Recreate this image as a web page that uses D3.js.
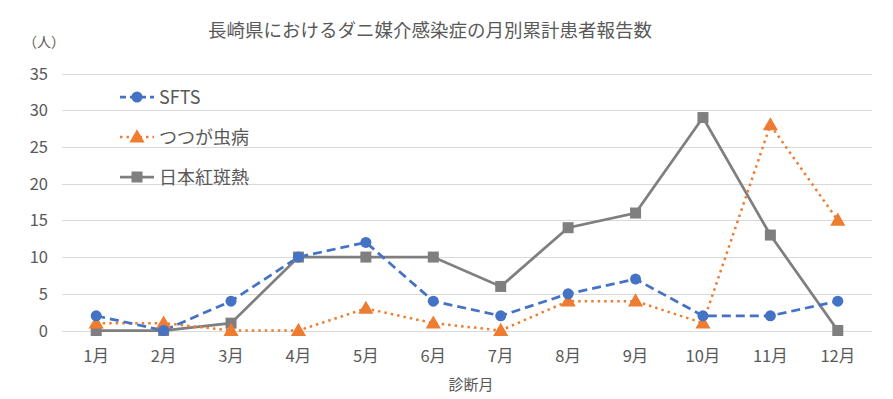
<!DOCTYPE html>
<html><head><meta charset="utf-8">
<script src="https://cdn.jsdelivr.net/npm/d3@7"></script>
<style>body{margin:0;background:#fff}svg{display:block}text{font-family:"Noto Sans CJK JP","Noto Sans",sans-serif;fill:#595959}</style>
</head><body><svg id="c" width="893" height="399"></svg>
<script>
const months = ["1月","2月","3月","4月","5月","6月","7月","8月","9月","10月","11月","12月"];
const sfts = [2,0,4,10,12,4,2,5,7,2,2,4];
const tsutsuga = [1,1,0,0,3,1,0,4,4,1,28,15];
const jsf = [0,0,1,10,10,10,6,14,16,29,13,0];
const yTicks = [0,5,10,15,20,25,30,35];
const seriesNames = ["SFTS","つつが虫病","日本紅斑熱"];
const title = "長崎県におけるダニ媒介感染症の月別累計患者報告数";

const svg = d3.select("#c");
const x = d3.scaleBand().domain(months).range([62.5,871.5]);
const y = d3.scaleLinear().domain([0,35]).range([330.5,73.5]);
const cx = m => x(m) + x.bandwidth()/2;

svg.append("g").selectAll("line").data(yTicks).join("line")
  .attr("x1",62).attr("x2",872).attr("y1",d=>Math.round(y(d))+0.5).attr("y2",d=>Math.round(y(d))+0.5)
  .attr("stroke","#d9d9d9").attr("stroke-width",1);

svg.append("g").selectAll("text").data(yTicks).join("text")
  .attr("x",48).attr("y",d=>y(d)+6).attr("text-anchor","end").attr("font-size",16.5).text(d=>d);
svg.append("g").selectAll("text").data(months).join("text")
  .attr("x",d=>cx(d)).attr("y",362).attr("text-anchor","middle").attr("font-size",16.5).text(d=>d);

svg.append("text").attr("x",430).attr("y",37).attr("text-anchor","middle").attr("font-size",18.5).text(title);
svg.append("text").attr("x",44).attr("y",47).attr("text-anchor","middle").attr("font-size",14).text("（人）");
svg.append("text").attr("x",471).attr("y",390).attr("text-anchor","middle").attr("font-size",15).text("診断月");

const series = [
  {name:seriesNames[0], data:sfts, color:"#4472C4", dash:"9,5", w:2.75, shape:"circle"},
  {name:seriesNames[1], data:tsutsuga, color:"#ED7D31", dash:"2.5,4", w:2.5, shape:"tri"},
  {name:seriesNames[2], data:jsf, color:"#7F7F7F", dash:null, w:2.75, shape:"sq"}
];
const line = d3.line().x((d,i)=>cx(months[i])).y(d=>y(d));
function marker(g, shape, color){
  if(shape==="circle") g.append("circle").attr("r",5.5).attr("fill",color);
  else if(shape==="tri") g.append("path").attr("d",d3.symbol(d3.symbolTriangle,100)()).attr("transform","translate(0,1)").attr("fill",color);
  else g.append("rect").attr("x",-5.5).attr("y",-5.5).attr("width",11).attr("height",11).attr("fill",color);
}
const order = [2,1,0];
order.forEach(k=>{
  const s = series[k];
  svg.append("path").datum(s.data).attr("d",line).attr("fill","none").attr("stroke",s.color)
    .attr("stroke-width",s.w).attr("stroke-dasharray",s.dash);
});
order.forEach(k=>{
  const s = series[k];
  s.data.forEach((v,i)=>{
    const g = svg.append("g").attr("transform",`translate(${cx(months[i])},${y(v)})`);
    marker(g,s.shape,s.color);
  });
});

const ly = [97,137,177];
series.forEach((s,i)=>{
  const g = svg.append("g").attr("transform",`translate(0,${ly[i]})`);
  g.append("line").attr("x1",120).attr("x2",154).attr("y1",0).attr("y2",0).attr("stroke",s.color)
    .attr("stroke-width",s.w).attr("stroke-dasharray",s.dash ? (s.shape==="tri"?"2.5,4":"6,4") : null);
  const m = g.append("g").attr("transform","translate(137,0)");
  marker(m,s.shape,s.color);
  g.append("text").attr("x",159).attr("y",6.5).attr("font-size",18).text(s.name);
});
</script></body></html>
